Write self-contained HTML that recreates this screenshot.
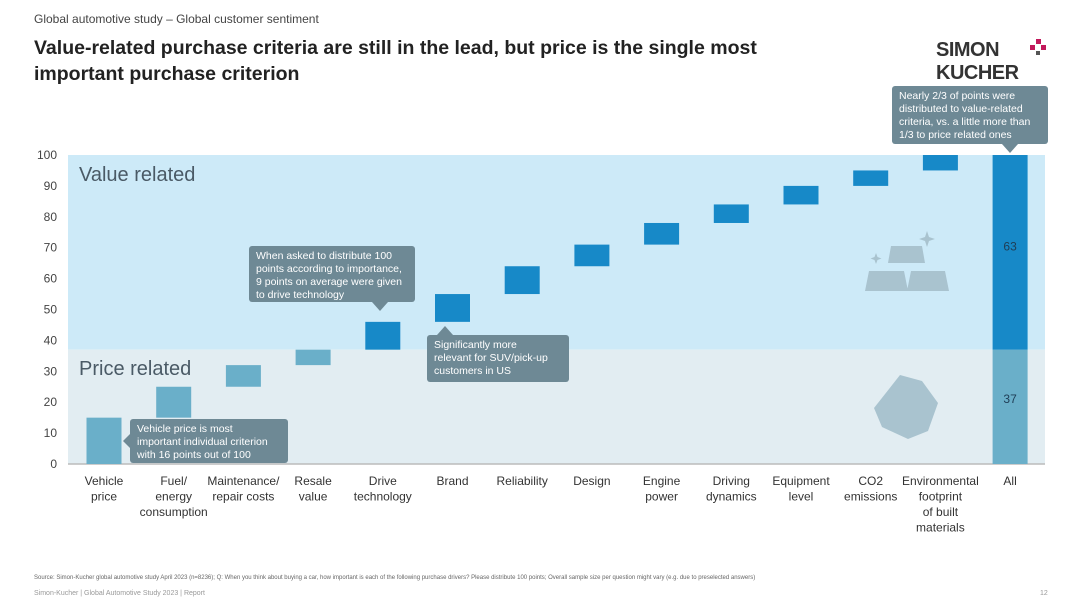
<!DOCTYPE html>
<html><head><meta charset="utf-8"><style>
body{margin:0;background:#fff;font-family:"Liberation Sans",sans-serif;}
svg text{font-family:"Liberation Sans",sans-serif;}
</style></head><body>
<svg id="c" width="1080" height="608" viewBox="0 0 1080 608">
<text x="34" y="23" font-size="12" fill="#444">Global automotive study – Global customer sentiment</text>
<text x="34" y="54" font-size="19.5" font-weight="bold" fill="#222">Value-related purchase criteria are still in the lead, but price is the single most</text>
<text x="34" y="80" font-size="19.5" font-weight="bold" fill="#222">important purchase criterion</text>
<g>
<text x="936" y="56" font-size="20" font-weight="bold" fill="#333" letter-spacing="-0.5">SIMON</text>
<text x="936" y="79" font-size="20" font-weight="bold" fill="#333" letter-spacing="-0.5">KUCHER</text>
<rect x="1036" y="39" width="5" height="5" fill="#c2185b"/><rect x="1030" y="45" width="5" height="5" fill="#c2185b"/><rect x="1041" y="45" width="5" height="5" fill="#c2185b"/><rect x="1036" y="51" width="4" height="4" fill="#555"/>
</g>
<g id="plot"></g>
<text x="34" y="579" font-size="6" fill="#666">Source: Simon-Kucher global automotive study April 2023 (n=8236); Q: When you think about buying a car, how important is each of the following purchase drivers? Please distribute 100 points; Overall sample size per question might vary (e.g. due to preselected answers)</text>
<text x="34" y="595" font-size="7" fill="#999">Simon-Kucher  |  Global Automotive Study 2023  |  Report</text>
<text x="1040" y="595" font-size="7" fill="#999">12</text>
</svg>
<script>
const categories=["Vehicle\nprice","Fuel/\nenergy\nconsumption","Maintenance/\nrepair costs","Resale\nvalue","Drive\ntechnology","Brand","Reliability","Design","Engine\npower","Driving\ndynamics","Equipment\nlevel","CO2\nemissions","Environmental\nfootprint\nof built\nmaterials"];
const values=[15,10,7,5,9,9,9,7,7,6,6,5,5];
const groups=["price","price","price","price","value","value","value","value","value","value","value","value","value"];
const totalPrice=37;
const totalValue=63;
const yTicks=[0,10,20,30,40,50,60,70,80,90,100];
const NS="http://www.w3.org/2000/svg";
const g=document.getElementById('plot');
const x0=68,x1=1045,y0=464,y100=155;
const y=v=>y0-(v/100)*(y0-y100);
const xc=i=>104+i*69.7;
const bw=35;
function el(t,a,txt){const e=document.createElementNS(NS,t);for(const k in a)e.setAttribute(k,a[k]);if(txt!==undefined)e.textContent=txt;g.appendChild(e);return e;}
let r=el('rect',{x:x0,y:y(100),width:x1-x0,height:y(totalPrice)-y(100),fill:'#cdeaf8'});


r=el('rect',{x:x0,y:y(totalPrice),width:x1-x0,height:y0-y(totalPrice),fill:'#e2edf2'});


let t=el('text',{x:79,y:181,'font-size':20,fill:'#4a5a66'},'Value related');


t=el('text',{x:79,y:375,'font-size':20,fill:'#4a5a66'},'Price related');


let ic=el('g',{fill:'#a9c3cf'});


ic.innerHTML='<path d="M891 246 h31 l3 17 h-37z"/><path d="M869 271 h35 l4 20 h-43z"/><path d="M911 271 h34 l4 20 h-42z"/><path d="M927 231 l2 6 6 2 -6 2 -2 6 -2 -6 -6 -2 6 -2z"/><path d="M876 253 l1.5 4 4 1.5 -4 1.5 -1.5 4 -1.5 -4 -4 -1.5 4 -1.5z"/>';
ic=el('g',{fill:'#a9c3cf'});


ic.innerHTML='<path d="M874 408 l26 -33 l22 6 l16 22 l-10 28 l-20 8 l-26 -12 z"/>';
let ax=el('line',{x1:x0,y1:y0,x2:x1,y2:y0,stroke:'#bbb','stroke-width':1.5});


yTicks.forEach(v=>{const e=el('text',{x:57,y:y(v)+4,'font-size':12,fill:'#444','text-anchor':'end'},v);

});
let cum=0;
values.forEach((v,i)=>{
 const b=el('rect',{x:xc(i)-bw/2,y:y(cum+v),width:bw,height:y(cum)-y(cum+v),fill:groups[i]==='price'?'#6aafc9':'#1789c8'});
 
 
 cum+=v;
});
const ia=categories.length;
const xa=xc(ia);
let b=el('rect',{x:xa-bw/2,y:y(totalPrice),width:bw,height:y0-y(totalPrice),fill:'#6aafc9'});


b=el('rect',{x:xa-bw/2,y:y(totalPrice+totalValue),width:bw,height:y(totalPrice)-y(totalPrice+totalValue),fill:'#1789c8'});


t=el('text',{x:xa,y:(y(totalPrice)+y(100))/2-2,'font-size':12,fill:'#1f3d55','text-anchor':'middle'},totalValue);


t=el('text',{x:xa,y:(y(totalPrice)+y0)/2-4,'font-size':12,fill:'#1f3d55','text-anchor':'middle'},totalPrice);


categories.concat(["All"]).forEach((c,i)=>{
 c.split('\n').forEach((ln,j)=>{const e=el('text',{x:xc(i),y:485+j*15.5,'font-size':12,fill:'#333','text-anchor':'middle'},ln);
 
 });
});
function callout(name,x,yy,w,h,lines,ptr){
 const cg=el('g',{});
 
 
 let s='<rect x="'+x+'" y="'+yy+'" width="'+w+'" height="'+h+'" rx="3" fill="#6e8995"/><path d="'+ptr+'" fill="#6e8995"/>';
 lines.forEach((l,i)=>{s+='<text x="'+(x+7)+'" y="'+(yy+13+i*13)+'" font-size="10.5" fill="#fff">'+l+'</text>';});
 cg.innerHTML=s;
}
callout('callout-vehicle-price',130,419,158,44,["Vehicle price is most","important individual criterion","with 16 points out of 100"],"M130 434 l-7 7 l7 7z");
callout('callout-drive-technology',249,246,166,56,["When asked to distribute 100","points according to importance,","9 points on average were given","to drive technology"],"M372 302 l8 9 l8 -9z");
callout('callout-brand',427,335,142,47,["Significantly more","relevant for SUV/pick-up","customers in US"],"M437 335 l8 -9 l8 9z");
callout('callout-all',892,86,156,58,["Nearly 2/3 of points were","distributed to value-related","criteria, vs. a little more than","1/3 to price related ones"],"M1002 144 l8 9 l8 -9z");
</script>
</body></html>
